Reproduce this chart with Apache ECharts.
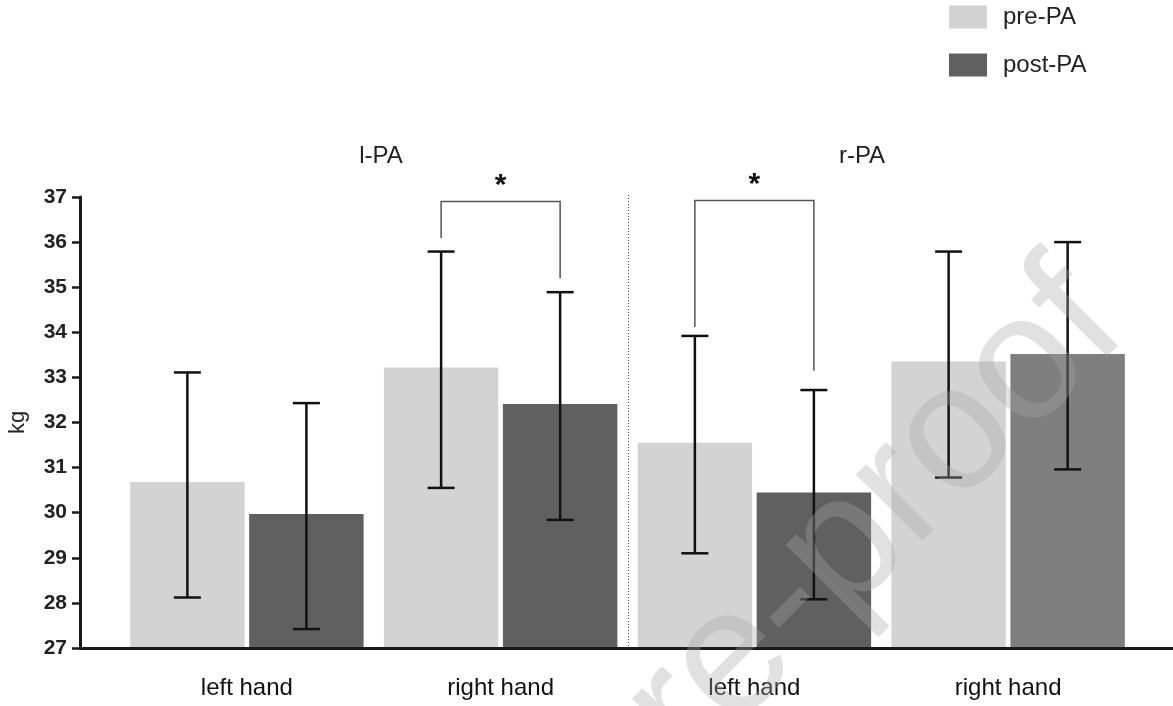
<!DOCTYPE html>
<html>
<head>
<meta charset="utf-8">
<script src="https://cdn.jsdelivr.net/npm/echarts@6/dist/echarts.min.js"></script>
<style>
  html, body { margin: 0; padding: 0; background: #ffffff; }
  #chart { width: 1173px; height: 706px; }
</style>
</head>
<body>
<div id="chart"></div>
<script>
// ---- data ----
const categories = ['left hand', 'right hand', 'left hand', 'right hand'];
const groupTitles = ['l-PA', 'r-PA'];
const seriesNames = ['pre-PA', 'post-PA'];
const preMean  = [30.68, 33.22, 31.55, 33.35];
const postMean = [29.97, 32.41, 30.45, 33.52];
const preLow   = [28.12, 30.55, 29.10, 30.78];
const preHigh  = [33.11, 35.79, 33.92, 35.79];
const postLow  = [27.42, 29.84, 28.08, 30.96];
const postHigh = [32.43, 34.89, 32.72, 36.00];
// significance brackets: [category index, bracket top, left leg end, right leg end]
const brackets = [
  [1, 36.90, 36.09, 35.20],
  [2, 36.92, 34.12, 33.15]
];
const bracketLabel = '*';
// divider between the l-PA and r-PA panels: after this category index
const dividerAfter = [1];
const yTicks = { min: 27, max: 37, interval: 1 };
const watermark = 'Journal Pre-proof';

const FONT = '"Liberation Sans", Arial, sans-serif';
const PRE_COLOR = '#d3d3d3';
const POST_COLOR = '#606060';
const POST_COLOR_LAST = '#7f7f7f';
const CAT_GAP = 0.08, BAR_GAP = 0.04;

const errData = [];
for (let i = 0; i < categories.length; i++) {
  errData.push([i, preLow[i], preHigh[i], 0]);
  errData.push([i, postLow[i], postHigh[i], 1]);
}

function barOffset(api, which) {
  const band = api.size([1, 0])[0];
  const bw = band * (1 - CAT_GAP) / (2 + BAR_GAP);
  const off = bw * (1 + BAR_GAP) / 2;
  return which === 0 ? -off : off;
}

const chart = echarts.init(document.getElementById('chart'), null, { renderer: 'canvas' });

const option = {
  backgroundColor: '#ffffff',
  animation: false,
  textStyle: { fontFamily: FONT },
  title: [
    { text: groupTitles[0], left: 376, top: 139, textAlign: 'center',
      textStyle: { fontSize: 24, fontWeight: 'normal', color: '#222', fontFamily: FONT } },
    { text: groupTitles[1], left: 857, top: 139, textAlign: 'center',
      textStyle: { fontSize: 24, fontWeight: 'normal', color: '#222', fontFamily: FONT } }
  ],
  legend: {
    data: seriesNames,
    orient: 'vertical',
    left: 949, top: 5,
    padding: 0,
    itemWidth: 38, itemHeight: 23, itemGap: 24,
    icon: 'rect',
    textStyle: { fontSize: 24, color: '#222', fontFamily: FONT, padding: [0, 0, 0, 11] }
  },
  grid: [
    { left: 80, right: 0, top: 197, bottom: 58, containLabel: false, outerBoundsMode: 'none' },
    { left: 120, right: 38, top: 197, bottom: 58, containLabel: false, outerBoundsMode: 'none' }
  ],
  xAxis: [
    { gridIndex: 0, type: 'value', min: 0, max: 1, z: 10,
      axisLine: { show: true, lineStyle: { color: '#1a1a1a', width: 3 } },
      axisTick: { show: false }, axisLabel: { show: false }, splitLine: { show: false } },
    { gridIndex: 1, type: 'category', data: categories, boundaryGap: true,
      axisLine: { show: false }, axisTick: { show: false },
      axisLabel: { fontSize: 24, color: '#111', margin: 28, fontFamily: FONT },
      splitLine: { show: false } }
  ],
  yAxis: [
    { gridIndex: 0, type: 'value', min: yTicks.min, max: yTicks.max, interval: yTicks.interval, z: 10,
      name: 'kg', nameLocation: 'middle', nameGap: 51,
      nameTextStyle: { fontSize: 22, color: '#222', fontFamily: FONT },
      axisLine: { show: true, lineStyle: { color: '#1a1a1a', width: 3 } },
      axisTick: { show: true, length: 8, lineStyle: { color: '#1a1a1a', width: 2.5 } },
      axisLabel: { fontSize: 21, fontWeight: 'bold', color: '#222', margin: 13, fontFamily: FONT },
      splitLine: { show: false } },
    { gridIndex: 1, type: 'value', min: yTicks.min, max: yTicks.max, interval: yTicks.interval, show: false }
  ],
  series: [
    { name: 'divider', type: 'custom', xAxisIndex: 1, yAxisIndex: 1, z: 1, silent: true,
      data: dividerAfter.map(i => [i]), encode: { x: 0 },
      renderItem: function (params, api) {
        const i = api.value(0);
        const band = api.size([1, 0])[0];
        const top = api.coord([i, yTicks.max]);
        const bot = api.coord([i, yTicks.min]);
        const x = Math.round(top[0] + band / 2) + 0.5;
        return { type: 'line', shape: { x1: x, y1: top[1] - 2, x2: x, y2: bot[1] },
          style: { stroke: '#444', lineWidth: 1, lineDash: [1, 2] } };
      } },
    { name: seriesNames[0], type: 'bar', xAxisIndex: 1, yAxisIndex: 1,
      barGap: (BAR_GAP * 100) + '%', barCategoryGap: (CAT_GAP * 100) + '%',
      itemStyle: { color: PRE_COLOR }, data: preMean },
    { name: seriesNames[1], type: 'bar', xAxisIndex: 1, yAxisIndex: 1,
      itemStyle: { color: POST_COLOR },
      data: postMean.map((v, i) => i === postMean.length - 1 ? { value: v, itemStyle: { color: POST_COLOR_LAST } } : v) },
    { name: 'error', type: 'custom', xAxisIndex: 1, yAxisIndex: 1, z: 5,
      data: errData, encode: { x: 0, y: [1, 2] },
      renderItem: function (params, api) {
        const cat = api.value(0), which = api.value(3);
        const lo = api.coord([cat, api.value(1)]);
        const hi = api.coord([cat, api.value(2)]);
        const x = lo[0] + barOffset(api, which);
        const cap = 13.5;
        const st = { stroke: '#111', lineWidth: 2.5 };
        return { type: 'group', children: [
          { type: 'line', shape: { x1: x, y1: lo[1], x2: x, y2: hi[1] }, style: st },
          { type: 'line', shape: { x1: x - cap, y1: hi[1], x2: x + cap, y2: hi[1] }, style: st },
          { type: 'line', shape: { x1: x - cap, y1: lo[1], x2: x + cap, y2: lo[1] }, style: st }
        ] };
      } },
    { name: 'brackets', type: 'custom', xAxisIndex: 1, yAxisIndex: 1, z: 5,
      data: brackets, encode: { x: 0, y: [1, 2, 3] },
      renderItem: function (params, api) {
        const cat = api.value(0);
        const top = api.coord([cat, api.value(1)]);
        const l = api.coord([cat, api.value(2)]);
        const r = api.coord([cat, api.value(3)]);
        const xl = top[0] + barOffset(api, 0), xr = top[0] + barOffset(api, 1);
        return { type: 'group', children: [
          { type: 'polyline', shape: { points: [[xl, l[1]], [xl, top[1]], [xr, top[1]], [xr, r[1]]] },
            style: { stroke: '#555', lineWidth: 1.5, fill: null } },
          { type: 'text', style: { x: (xl + xr) / 2, y: top[1] - 1, text: bracketLabel,
            align: 'center', verticalAlign: 'bottom', fill: '#111',
            font: 'bold 30px ' + FONT } }
        ] };
      } }
  ],
  graphic: [
    { type: 'text', x: 1096, y: 298, rotation: Math.PI / 4, z: 100, silent: true,
      style: { text: watermark, x: 0, y: 0, align: 'right', verticalAlign: 'middle',
        fill: 'rgba(167,167,167,0.34)', font: '178px ' + FONT } }
  ]
};
chart.setOption(option);
</script>
</body>
</html>
